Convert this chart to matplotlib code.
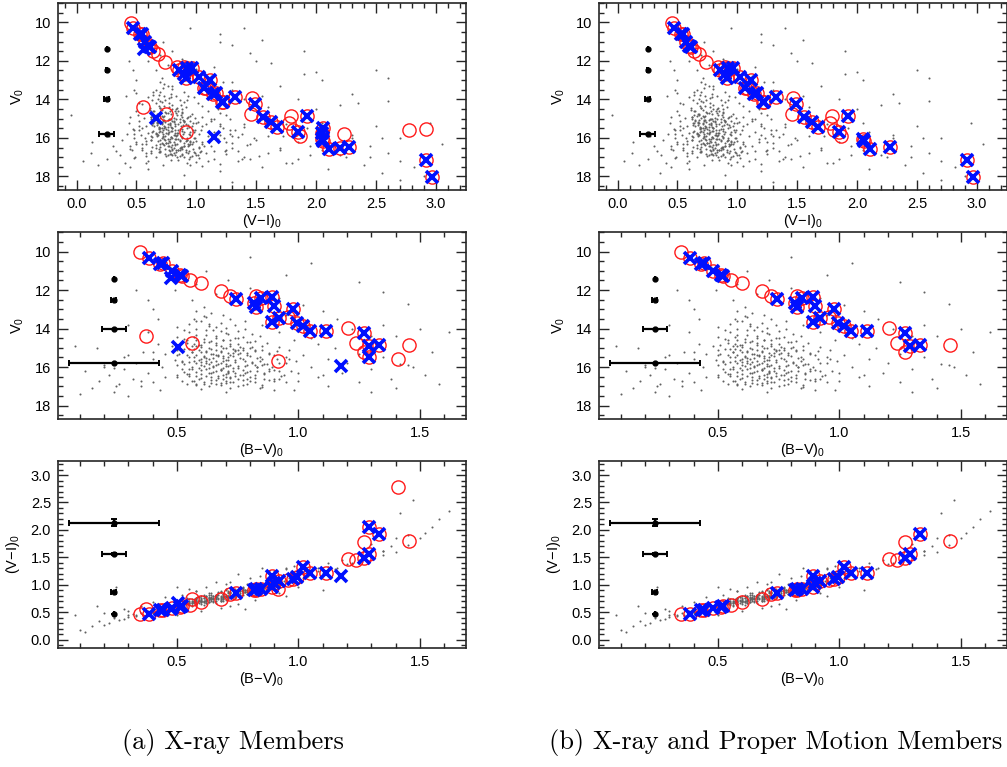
import numpy as np
import matplotlib
matplotlib.use('Agg')
import matplotlib.pyplot as plt
from matplotlib.ticker import MultipleLocator

plt.rcParams['font.family'] = ['Liberation Sans', 'DejaVu Sans']
plt.rcParams['mathtext.fontset'] = 'custom'
plt.rcParams['mathtext.rm'] = 'Liberation Sans'
plt.rcParams['mathtext.default'] = 'regular'

# ---- member stars: V0, (B-V)0, (V-I)0 ; nan = no B-V
mem_v = [10.04, 10.31, 10.62, 10.59, 11.03, 11.38, 11.23, 11.28, 11.47, 11.64,
         12.06, 12.31, 12.46, 12.66, 12.90, 12.32, 12.39, 12.36, 12.82, 12.97,
         13.66, 13.43, 13.40, 13.72, 13.87, 14.15, 14.15, 13.95, 14.24, 14.75,
         14.93, 14.87, 14.86, 15.24, 15.50, 15.59, 15.96, 15.70, 14.39, 14.75,
         14.95, 15.18, 15.41, 15.60, 15.70, 15.88, 15.72, 16.05, 16.17, 16.58,
         16.53, 16.47, 15.79, 15.56, 17.12, 18.03]
mem_bv = [0.347, 0.383, 0.428, 0.444, 0.480, 0.475, 0.511, 0.520, 0.552, 0.599,
          0.681, 0.717, 0.741, 0.815, 0.826, 0.827, 0.847, 0.891, 0.898, 0.978,
          0.893, 0.919, 0.955, 0.993, 1.018, 1.048, 1.115, 1.204, 1.272, 1.236,
          1.290, 1.330, 1.456, 1.270, 1.289, 1.410, 1.174, 0.914, 0.372, 0.563,
          0.503, np.nan, np.nan, np.nan, np.nan, np.nan, np.nan, np.nan, np.nan, np.nan,
          np.nan, np.nan, np.nan, np.nan, np.nan, np.nan]
mem_vi = [0.458, 0.470, 0.530, 0.545, 0.575, 0.562, 0.600, 0.613, 0.638, 0.681,
          0.740, 0.836, 0.853, 0.895, 0.915, 0.900, 0.920, 0.960, 1.025, 1.112,
          1.160, 1.063, 1.080, 1.140, 1.325, 1.210, 1.220, 1.465, 1.490, 1.452,
          1.553, 1.921, 1.790, 1.772, 2.053, 2.774, 1.150, 0.913, 0.556, 0.744,
          0.665, 1.620, 1.671, 1.805, 1.850, 1.866, 2.050, 2.050, 2.057, 2.110,
          2.195, 2.275, 2.228, 2.915, 2.915, 2.968]
mem_xray = [1, 1, 1, 1, 1, 0, 1, 1, 1, 1,
            1, 1, 1, 1, 1, 1, 1, 1, 1, 1,
            1, 1, 1, 1, 1, 1, 1, 1, 1, 1,
            1, 1, 1, 1, 1, 1, 0, 1, 1, 1,
            0, 1, 1, 1, 1, 1, 1, 1, 1, 1,
            1, 1, 1, 1, 1, 1]
mem_cross = [0, 1, 1, 1, 1, 1, 1, 1, 0, 0,
             0, 0, 1, 1, 1, 0, 1, 1, 1, 1,
             1, 1, 0, 1, 1, 1, 1, 0, 1, 0,
             1, 1, 0, 0, 1, 0, 1, 0, 0, 0,
             1, 1, 1, 0, 1, 0, 1, 1, 1, 1,
             1, 1, 0, 0, 1, 1]
mem_pm = [1, 1, 1, 1, 1, 0, 1, 1, 1, 1,
          1, 1, 1, 1, 1, 1, 1, 1, 1, 1,
          1, 1, 1, 1, 1, 1, 1, 1, 1, 1,
          1, 1, 1, 1, 0, 0, 0, 0, 0, 0,
          0, 1, 1, 1, 1, 1, 0, 1, 1, 1,
          0, 1, 0, 0, 1, 1]

# ---- field stars (grey dots)
fld_v = [14.1, 14.2, 14.3, 14.35, 14.4, 14.45, 14.5, 14.55, 14.6, 14.62,
         14.7, 14.72, 14.78, 14.8, 14.85, 14.9, 14.92, 14.95, 15.0, 15.02,
         15.05, 15.08, 15.1, 15.12, 15.15, 15.18, 15.2, 15.22, 15.25, 15.28,
         15.3, 15.32, 15.35, 15.37, 15.4, 15.42, 15.45, 15.47, 15.5, 15.52,
         15.55, 15.57, 15.6, 15.62, 15.65, 15.67, 15.7, 15.72, 15.75, 15.77,
         15.8, 15.82, 15.85, 15.87, 15.9, 15.92, 15.95, 15.97, 16.0, 16.02,
         16.05, 16.07, 16.1, 16.12, 16.15, 16.17, 16.2, 16.22, 16.25, 16.28,
         16.3, 16.33, 16.35, 16.38, 16.4, 16.42, 16.45, 16.48, 16.5, 16.52,
         16.55, 16.58, 16.6, 16.63, 16.65, 16.68, 16.7, 16.73, 16.75, 16.78,
         16.8, 16.85, 16.9, 16.95, 17.0, 17.05, 17.1, 17.15, 17.2, 17.3,
         13.6, 13.7, 13.75, 13.8, 13.85, 13.9, 13.95, 14.0, 14.02, 14.05,
         13.4, 13.5, 13.3, 13.2, 13.1,
         10.5, 10.8, 11.0, 11.3, 11.5, 11.7, 11.9, 12.0, 12.2, 12.4,
         12.5, 12.6, 12.8, 12.9, 13.0, 13.1, 13.3, 13.5, 13.6, 13.8,
         14.0, 14.2, 14.4, 14.5, 10.3, 10.6, 11.2, 11.6, 12.1, 12.7,
         12.5, 13.0, 13.5, 12.0, 14.2, 13.8,
         15.6, 15.8, 16.0, 16.1, 16.3, 16.4, 16.5, 16.6, 16.7, 16.8,
         16.9, 17.0, 17.1, 17.2, 17.3, 17.4, 15.2, 15.4, 14.8, 16.2,
         15.9, 17.5, 15.0, 16.05, 14.9,
         14.6, 14.8, 15.0, 15.1, 15.3, 15.4, 15.5, 15.6, 15.7, 15.8,
         15.9, 16.0, 16.1, 16.2, 16.3, 16.4, 16.5, 16.6, 16.7, 16.8,
         16.9, 17.0, 17.1, 17.2, 17.3, 14.4, 14.0, 13.8, 14.2, 15.2,
         16.0, 15.85, 15.3, 15.9, 16.3, 15.5, 16.6, 14.9, 15.1, 16.4,
         15.3, 16.1, 15.7, 16.5, 15.0, 16.2, 15.6, 16.8, 15.9, 16.4,
         15.2, 16.7, 15.5, 16.0, 17.0, 15.8, 16.3, 15.4, 16.9, 15.1,
         16.6, 15.75, 16.15, 14.9, 17.1]
fld_bv = [0.62, 0.55, 0.71, 0.58, 0.66, 0.50, 0.75, 0.61, 0.69, 0.54,
          0.80, 0.63, 0.57, 0.72, 0.66, 0.48, 0.85, 0.60, 0.70, 0.77,
          0.53, 0.64, 0.59, 0.82, 0.68, 0.74, 0.56, 0.62, 0.88, 0.71,
          0.65, 0.51, 0.79, 0.58, 0.67, 0.73, 0.61, 0.84, 0.55, 0.69,
          0.76, 0.63, 0.91, 0.49, 0.70, 0.66, 0.57, 0.81, 0.74, 0.62,
          0.68, 0.53, 0.87, 0.72, 0.60, 0.78, 0.65, 0.70, 0.56, 0.83,
          0.63, 0.75, 0.68, 0.52, 0.90, 0.60, 0.73, 0.66, 0.79, 0.58,
          0.71, 0.64, 0.86, 0.55, 0.69, 0.77, 0.62, 0.93, 0.50, 0.72,
          0.67, 0.82, 0.59, 0.75, 0.64, 0.88, 0.57, 0.70, 0.80, 0.61,
          0.95, 0.68, 0.54, 0.77, 0.63, 0.85, 0.72, 0.60, 0.90, 0.70,
          0.60, 0.68, 0.55, 0.74, 0.63, 0.50, 0.70, 0.58, 0.78, 0.65,
          0.62, 0.57, 0.69, 0.64, 0.58,
          0.42, 0.47, 0.62, 0.52, 0.71, 0.58, 0.80, 0.49, 0.66, 0.92,
          0.56, 0.76, 1.02, 0.61, 0.84, 1.10, 0.95, 1.16, 0.78, 1.04,
          1.22, 0.92, 1.30, 1.05, 0.80, 1.05, 0.95, 1.25, 1.35, 1.45,
          0.38, 0.40, 0.42, 0.33, 0.38, 0.30,
          0.40, 0.33, 0.44, 0.28, 0.38, 0.22, 0.45, 0.32, 0.18, 0.40,
          0.26, 0.35, 0.15, 0.43, 0.24, 0.10, 0.36, 0.30, 0.42, 0.12,
          0.20, 0.30, 0.17, 0.24, 0.08,
          0.98, 1.08, 1.15, 0.96, 1.25, 1.02, 1.35, 1.12, 0.99, 1.20,
          1.45, 1.05, 1.30, 0.97, 1.18, 1.52, 1.08, 1.38, 1.00, 1.25,
          1.58, 1.12, 1.40, 0.98, 1.30, 1.40, 1.50, 1.35, 1.62, 1.55,
          1.47, 1.42, 0.75, 0.85, 0.78, 0.95, 0.90, 0.72, 0.50, 1.10,
          0.45, 0.55, 0.62, 0.70, 0.80, 0.88, 0.60, 0.72, 0.82, 0.50,
          0.40, 0.35, 0.28, 0.20, 0.25, 0.95, 1.00, 0.66, 0.58, 0.75,
          0.92, 0.52, 0.68, 0.58, 0.84]
fld_vi = [0.70, 0.66, 0.80, 0.69, 0.77, 0.61, 0.83, 0.71, 0.78, 0.64,
          0.88, 0.75, 0.68, 0.84, 0.73, 0.62, 0.93, 0.70, 0.79, 0.86,
          0.65, 0.76, 0.72, 0.90, 0.74, 0.81, 0.67, 0.78, 0.97, 0.76,
          0.71, 0.63, 0.89, 0.73, 0.82, 0.79, 0.69, 0.92, 0.70, 0.75,
          0.88, 0.72, 0.99, 0.64, 0.80, 0.77, 0.69, 0.85, 0.84, 0.67,
          0.76, 0.66, 0.95, 0.81, 0.74, 0.87, 0.79, 0.72, 0.71, 0.92,
          0.76, 0.82, 0.86, 0.62, 1.00, 0.68, 0.78, 0.81, 0.90, 0.75,
          0.84, 0.70, 0.94, 0.73, 0.77, 0.93, 0.79, 1.02, 0.66, 0.86,
          0.74, 0.97, 0.77, 0.80, 0.85, 1.04, 0.70, 0.91, 0.83, 0.81,
          1.08, 0.88, 0.76, 0.96, 0.84, 1.02, 0.94, 0.79, 1.10, 0.92,
          0.70, 0.79, 0.64, 0.83, 0.73, 0.60, 0.77, 0.68, 0.86, 0.74,
          0.72, 0.66, 0.80, 0.73, 0.70,
          0.52, 0.58, 0.72, 0.63, 0.80, 0.70, 0.88, 0.60, 0.76, 1.00,
          0.66, 0.88, 1.12, 0.71, 0.94, 1.22, 1.05, 1.30, 0.90, 1.15,
          1.40, 1.01, 1.52, 1.18, 0.95, 1.20, 1.30, 1.45, 1.62, 1.90,
          0.47, 0.50, 0.48, 0.44, 0.52, 0.41,
          0.48, 0.42, 0.57, 0.38, 0.50, 0.30, 0.55, 0.46, 0.33, 0.58,
          0.36, 0.49, 0.25, 0.60, 0.40, 0.18, 0.44, 0.52, 0.51, 0.13,
          0.27, 0.45, 0.62, 0.85, 0.45,
          1.10, 1.25, 1.28, 1.12, 1.40, 1.20, 1.62, 1.32, 1.15, 1.38,
          1.72, 1.23, 1.50, 1.18, 1.45, 1.95, 1.30, 1.70, 1.24, 1.60,
          2.20, 1.40, 1.85, 1.35, 1.75, 1.60, 1.85, 1.55, 2.35, 2.05,
          2.55, 2.30, 1.20, 1.30, 0.55, 0.80, 1.25, 1.05, 0.95, 0.90,
          0.78, 0.92, 0.95, 1.02, 1.12, 1.25, 0.52, 0.62, 0.72, 0.45,
          0.68, 0.62, 0.55, 0.48, 0.95, 1.28, 0.95, 1.05, 0.88, 0.65,
          0.85, 0.82, 0.58, 0.88, 1.15]

# dense field cloud
core_v = [15.63, 14.87, 16.21, 15.12, 16.74, 14.43, 15.96, 16.48, 15.31, 14.66,
          16.05, 15.48, 16.89, 15.77, 14.21, 16.33, 15.04, 15.89, 16.62, 14.98,
          15.55, 16.12, 15.22, 16.95, 14.55, 15.71, 16.41, 15.39, 14.76, 16.27,
          15.84, 15.08, 16.57, 14.34, 15.66, 16.79, 15.27, 16.02, 14.91, 15.51,
          16.36, 15.93, 14.62, 16.68, 15.18, 15.79, 16.15, 14.83, 15.44, 16.52,
          15.01, 16.86, 15.59, 14.47, 16.24, 15.35, 15.98, 16.71, 14.72, 15.86,
          16.44, 15.13, 15.69, 16.09, 14.95, 16.99, 15.42, 16.31, 14.58, 15.74,
          16.63, 15.24, 16.18, 14.81, 15.57, 16.93, 15.06, 15.91, 16.39, 14.39,
          15.46, 16.77, 15.82, 14.69, 16.26, 15.34, 16.58, 15.15, 16.03, 14.93,
          15.61, 16.46, 15.28, 16.83, 14.51, 15.72, 16.11, 15.37, 16.66, 15.03,
          15.88, 16.34, 14.77, 15.53, 16.22, 15.19, 16.73, 15.94, 14.64, 15.41,
          16.54, 15.09, 16.07, 15.67, 16.91, 14.86, 15.29, 16.42, 15.76, 16.16,
          14.44, 15.58, 16.29, 15.11, 16.81, 15.83, 14.97, 16.49, 15.36, 16.01,
          15.64, 16.64, 14.59, 15.23, 16.19, 15.49, 16.87, 15.81, 14.74, 16.37,
          13.90, 13.62, 14.15, 13.48, 14.05, 13.75, 14.27, 13.33, 14.11, 13.82]
core_bv = [0.71, 0.59, 0.83, 0.66, 0.52, 0.77, 0.61, 0.74, 0.88, 0.64,
           0.69, 0.57, 0.79, 0.92, 0.70, 0.63, 0.73, 0.50, 0.86, 0.81,
           0.65, 0.56, 0.60, 0.68, 0.53, 0.78, 0.94, 0.72, 0.87, 0.71,
           0.67, 0.55, 0.60, 0.62, 0.84, 0.73, 0.76, 0.89, 0.68, 0.62,
           0.54, 0.75, 0.72, 0.66, 0.82, 0.58, 0.77, 0.51, 0.69, 0.80,
           0.63, 0.61, 0.96, 0.66, 0.65, 0.54, 0.83, 0.90, 0.79, 0.70,
           0.58, 0.74, 0.52, 0.62, 0.92, 0.75, 0.80, 0.86, 0.58, 0.64,
           0.69, 0.68, 0.71, 0.75, 0.85, 0.58, 0.57, 0.66, 0.76, 0.84,
           0.61, 0.82, 0.86, 0.61, 0.53, 0.64, 0.72, 0.91, 0.73, 0.56,
           0.74, 0.67, 0.79, 0.64, 0.74, 0.60, 0.88, 0.50, 0.77, 0.69,
           0.79, 0.60, 0.66, 0.83, 0.92, 0.62, 0.56, 0.71, 0.82, 0.67,
           0.64, 0.77, 0.59, 0.69, 0.85, 0.60, 0.73, 0.82, 0.55, 0.68,
           0.57, 0.77, 0.74, 0.85, 0.70, 0.63, 0.76, 0.55, 0.90, 0.65,
           0.59, 0.79, 0.69, 0.56, 0.80, 0.71, 0.66, 0.81, 0.54, 0.70,
           0.66, 0.58, 0.75, 0.72, 0.53, 0.63, 0.81, 0.61, 0.68, 0.85]
core_vi = [0.79, 0.66, 0.95, 0.81, 0.70, 0.84, 0.63, 0.88, 0.93, 0.74,
           0.73, 0.71, 1.01, 1.02, 0.77, 0.82, 0.78, 0.62, 0.91, 0.92,
           0.69, 0.74, 0.64, 0.86, 0.61, 0.90, 1.06, 0.87, 0.96, 0.76,
           0.84, 0.68, 0.69, 0.73, 0.88, 0.93, 0.85, 0.99, 0.72, 0.80,
           0.66, 0.79, 0.85, 0.78, 0.86, 0.72, 0.91, 0.64, 0.74, 0.87,
           0.77, 0.80, 1.04, 0.70, 0.75, 0.67, 0.98, 1.03, 0.83, 0.82,
           0.76, 0.80, 0.63, 0.70, 0.99, 0.90, 0.94, 0.96, 0.65, 0.76,
           0.83, 0.71, 0.86, 0.87, 0.97, 0.75, 0.73, 0.67, 0.82, 0.91,
           0.69, 0.99, 0.94, 0.76, 0.71, 0.78, 0.80, 1.01, 0.83, 0.62,
           0.76, 0.87, 0.91, 0.74, 0.80, 0.75, 0.92, 0.65, 0.94, 0.83,
           0.83, 0.72, 0.79, 0.86, 1.05, 0.67, 0.69, 0.88, 0.88, 0.76,
           0.81, 0.89, 0.78, 0.71, 1.00, 0.71, 0.82, 0.90, 0.66, 0.77,
           0.70, 0.82, 0.93, 0.90, 0.79, 0.68, 0.81, 0.63, 0.96, 0.80,
           0.70, 0.86, 0.82, 0.63, 0.97, 0.73, 0.82, 0.89, 0.67, 0.80,
           0.79, 0.64, 0.90, 0.80, 0.63, 0.69, 0.87, 0.76, 0.71, 0.93]

# field stars with no B-V (only in the V vs V-I panel)
nob_v = [15.0, 15.3, 15.5, 15.7, 15.9, 16.0, 16.2, 16.4, 16.5, 16.6,
         16.8, 16.9, 17.0, 17.2, 17.3, 17.4, 17.5, 17.6, 17.8, 18.0,
         18.2, 17.1, 16.7, 14.5, 13.0, 12.5, 14.1, 15.2, 17.7, 17.9,
         18.3, 17.6, 17.8, 17.4, 17.5, 17.2, 16.8, 14.8, 16.9, 16.3,
         10.3, 10.9, 11.5, 12.0, 12.6, 13.3, 13.7, 12.9, 14.3, 13.1,
         11.0, 12.3, 16.0, 15.4, 17.0,
         15.12, 16.44, 15.78, 14.36, 16.92, 15.47, 16.21, 14.88, 17.24, 15.95,
         16.63, 15.30, 14.59, 16.08, 17.41, 15.69, 16.37, 14.97, 16.85, 15.54,
         13.88, 16.13, 17.08, 15.02, 16.56, 15.86, 14.72, 16.99, 15.38, 16.29,
         17.33, 15.61, 14.25, 16.74, 15.19, 16.02, 17.15, 15.74, 14.51, 16.48,
         15.91, 17.46, 16.18, 13.67, 15.44, 16.66, 15.07, 17.02, 15.83, 16.31,
         14.05, 16.95, 15.25, 16.59, 15.58, 17.28, 14.80, 16.24, 15.99, 16.81]
nob_vi = [1.55, 1.75, 1.92, 2.10, 1.60, 2.30, 1.85, 2.45, 1.70, 2.05,
          2.60, 1.95, 2.25, 2.70, 1.80, 2.40, 2.82, 2.10, 2.55, 2.90,
          2.70, 1.45, 1.35, 2.00, 2.05, 2.50, 2.60, 2.95, 1.20, 0.90,
          1.30, 0.60, 0.35, 0.95, 1.55, 0.05, 0.12, -0.05, 2.95, 3.05,
          1.40, 1.55, 1.90, 1.50, 2.00, 1.70, 2.30, 2.60, 2.20, 1.30,
          1.20, 1.15, 2.70, 2.50, 2.45,
          0.52, 1.12, 0.48, 1.05, 0.58, 1.22, 0.50, 0.95, 1.00, 1.35,
          0.55, 1.08, 0.50, 1.18, 0.72, 0.98, 1.42, 0.56, 1.25, 0.47,
          0.98, 0.62, 1.38, 1.15, 0.88, 0.54, 1.20, 0.66, 0.58, 1.05,
          1.20, 1.28, 0.55, 0.98, 0.90, 1.48, 0.85, 0.60, 0.88, 0.70,
          1.10, 1.05, 0.95, 0.50, 1.40, 1.15, 0.72, 0.48, 1.20, 0.58,
          0.92, 1.52, 1.00, 0.45, 0.85, 0.58, 0.68, 1.30, 0.88, 0.78]

# ---- photometric error bars (typical errors at several magnitudes)
err_v = [11.4, 12.5, 14.0, 15.77]
err_vi = [0.0, 0.005, 0.022, 0.06]
err_bv = [0.0, 0.01, 0.048, 0.186]
err_vi_lvl = [0.47, 0.86, 1.56, 2.13]
err_x_vi = 0.25
err_x_bv = 0.24

mem_v = np.array(mem_v); mem_bv = np.array(mem_bv); mem_vi = np.array(mem_vi)
mem_xray = np.array(mem_xray, bool); mem_cross = np.array(mem_cross, bool)
mem_pm = np.array(mem_pm, bool)

all_v = np.array(fld_v + core_v + nob_v)
all_bv = np.array(fld_bv + core_bv + [np.nan] * len(nob_v))
all_vi = np.array(fld_vi + core_vi + nob_vi)
hasb = ~np.isnan(all_bv)

fig = plt.figure(figsize=(10.07, 7.67), dpi=100)

cols_x = [58 / 1007, 599 / 1007]
w = 408 / 1007
rows = [(0.7523, 0.2438), (0.4537, 0.2434), (0.1555, 0.2430)]
dot = dict(s=2.2, c='0.38', lw=0)


def style(ax, xmaj, xmin, ymaj, ymin):
    ax.xaxis.set_major_locator(MultipleLocator(xmaj))
    ax.xaxis.set_minor_locator(MultipleLocator(xmin))
    ax.yaxis.set_major_locator(MultipleLocator(ymaj))
    ax.yaxis.set_minor_locator(MultipleLocator(ymin))
    ax.tick_params(which='both', direction='in', top=True, right=True,
                   labelsize=10.5, width=1.0, color='0.15')
    ax.tick_params(which='major', length=7, pad=5)
    ax.tick_params(which='minor', length=3.5)
    for s in ax.spines.values():
        s.set_linewidth(1.2)
        s.set_color('0.15')


def members(ax, x, y, sel):
    red = sel & mem_xray & ~np.isnan(x)
    blu = sel & mem_cross & ~np.isnan(x)
    ax.plot(x[red], y[red], 'o', ms=9.5, mfc='none', mec='#ff1a1a', mew=1.0)
    ax.plot(x[blu], y[blu], 'x', ms=8, color='#0010ff', mew=2.6)


def bars(ax, xc, ys, xerr, yerr=None):
    ax.errorbar([xc] * len(ys), ys, xerr=xerr, yerr=yerr, fmt='o', ms=3.5,
                color='black', elinewidth=1.6, capsize=2.5, capthick=1.4)


for c in range(2):
    sel = np.ones(len(mem_v), bool) if c == 0 else mem_pm

    # V0 vs (V-I)0
    ax = fig.add_axes([cols_x[c], rows[0][0], w, rows[0][1]])
    ax.scatter(all_vi, all_v, **dot)
    members(ax, mem_vi, mem_v, sel)
    bars(ax, err_x_vi, err_v, err_vi)
    ax.set_xlim(-0.155, 3.25)
    ax.set_ylim(18.7, 9.0)
    style(ax, 0.5, 0.1, 2, 0.5)
    ax.set_xlabel('(V$-$I)$_0$', fontsize=10.5, labelpad=1)
    ax.set_ylabel('V$_0$', fontsize=10.5, labelpad=6)

    # V0 vs (B-V)0
    ax = fig.add_axes([cols_x[c], rows[1][0], w, rows[1][1]])
    ax.scatter(all_bv[hasb], all_v[hasb], **dot)
    members(ax, mem_bv, mem_v, sel)
    bars(ax, err_x_bv, err_v, err_bv)
    ax.set_xlim(0.01, 1.69)
    ax.set_ylim(18.7, 9.0)
    style(ax, 0.5, 0.1, 2, 0.5)
    ax.set_xlabel('(B$-$V)$_0$', fontsize=10.5, labelpad=1)
    ax.set_ylabel('V$_0$', fontsize=10.5, labelpad=6)

    # (V-I)0 vs (B-V)0
    ax = fig.add_axes([cols_x[c], rows[2][0], w, rows[2][1]])
    ax.scatter(all_bv[hasb], all_vi[hasb], **dot)
    members(ax, mem_bv, mem_vi, sel)
    bars(ax, err_x_bv, err_vi_lvl, err_bv, err_vi)
    ax.set_xlim(0.01, 1.69)
    ax.set_ylim(-0.15, 3.25)
    style(ax, 0.5, 0.1, 0.5, 0.1)
    ax.set_xlabel('(B$-$V)$_0$', fontsize=10.5, labelpad=1)
    ax.set_ylabel('(V$-$I)$_0$', fontsize=10.5, labelpad=6)

fig.text(233 / 1007, 1 - 743 / 767, '(a) X-ray Members', ha='center',
         va='center', family='cmr10', fontsize=19)
fig.text(776 / 1007, 1 - 743 / 767, '(b) X-ray and Proper Motion Members',
         ha='center', va='center', family='cmr10', fontsize=19)

fig.savefig('out.png', dpi=100)
